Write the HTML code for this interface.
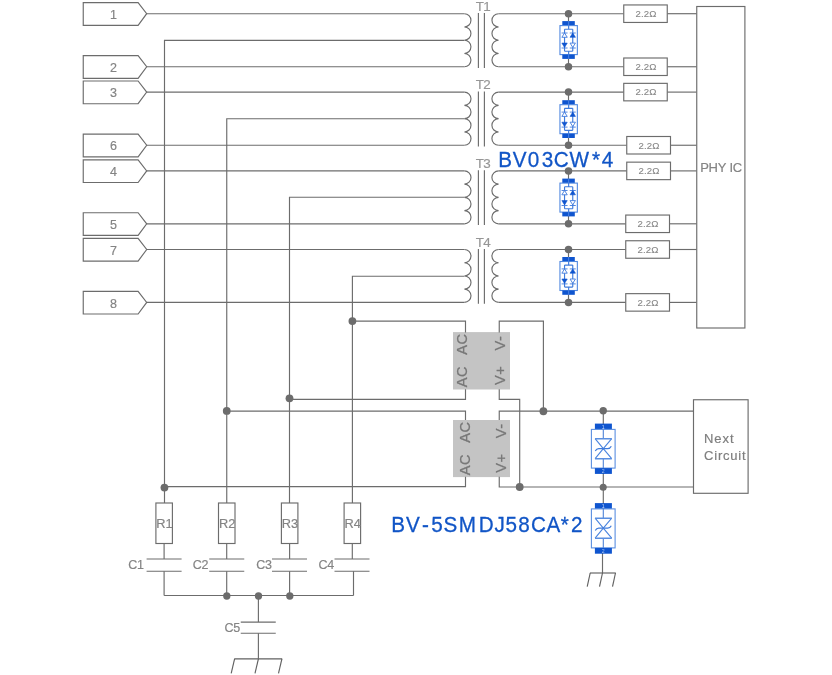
<!DOCTYPE html>
<html lang="en">
<head>
<meta charset="utf-8">
<title>PoE protection circuit</title>
<style>
html,body{margin:0;padding:0;background:#fff;}
body{width:832px;height:675px;overflow:hidden;}
svg{display:block;will-change:transform;font-family:'Liberation Sans', sans-serif;}
</style>
</head>
<body>
<svg width="832" height="675" viewBox="0 0 832 675">
<rect x="0" y="0" width="832" height="675" fill="#ffffff"/>
<polygon points="83.25,2.6 138.1,2.6 146.7,13.7 138.1,25.3 83.25,25.3" fill="#fff" stroke="#6c6c6c" stroke-width="1.15"/>
<text x="113.6" y="18.9" font-size="12.5" fill="#848484" stroke="#848484" stroke-width="0.18" text-anchor="middle" letter-spacing="0" >1</text>
<line x1="146.7" y1="13.7" x2="464.4" y2="13.7" stroke="#6c6c6c" stroke-width="1.15"/>
<polygon points="83.25,55.65 138.1,55.65 146.7,66.75 138.1,78.35 83.25,78.35" fill="#fff" stroke="#6c6c6c" stroke-width="1.15"/>
<text x="113.6" y="71.95" font-size="12.5" fill="#848484" stroke="#848484" stroke-width="0.18" text-anchor="middle" letter-spacing="0" >2</text>
<line x1="146.7" y1="66.75" x2="464.4" y2="66.75" stroke="#6c6c6c" stroke-width="1.15"/>
<polygon points="83.25,81.0 138.1,81.0 146.7,92.1 138.1,103.7 83.25,103.7" fill="#fff" stroke="#6c6c6c" stroke-width="1.15"/>
<text x="113.6" y="97.3" font-size="12.5" fill="#848484" stroke="#848484" stroke-width="0.18" text-anchor="middle" letter-spacing="0" >3</text>
<line x1="146.7" y1="92.1" x2="464.4" y2="92.1" stroke="#6c6c6c" stroke-width="1.15"/>
<polygon points="83.25,134.15 138.1,134.15 146.7,145.25 138.1,156.85 83.25,156.85" fill="#fff" stroke="#6c6c6c" stroke-width="1.15"/>
<text x="113.6" y="150.45" font-size="12.5" fill="#848484" stroke="#848484" stroke-width="0.18" text-anchor="middle" letter-spacing="0" >6</text>
<line x1="146.7" y1="145.25" x2="464.4" y2="145.25" stroke="#6c6c6c" stroke-width="1.15"/>
<polygon points="83.25,159.8 138.1,159.8 146.7,170.9 138.1,182.5 83.25,182.5" fill="#fff" stroke="#6c6c6c" stroke-width="1.15"/>
<text x="113.6" y="176.1" font-size="12.5" fill="#848484" stroke="#848484" stroke-width="0.18" text-anchor="middle" letter-spacing="0" >4</text>
<line x1="146.7" y1="170.9" x2="464.4" y2="170.9" stroke="#6c6c6c" stroke-width="1.15"/>
<polygon points="83.25,212.7 138.1,212.7 146.7,223.8 138.1,235.4 83.25,235.4" fill="#fff" stroke="#6c6c6c" stroke-width="1.15"/>
<text x="113.6" y="229.0" font-size="12.5" fill="#848484" stroke="#848484" stroke-width="0.18" text-anchor="middle" letter-spacing="0" >5</text>
<line x1="146.7" y1="223.8" x2="464.4" y2="223.8" stroke="#6c6c6c" stroke-width="1.15"/>
<polygon points="83.25,238.4 138.1,238.4 146.7,249.5 138.1,261.1 83.25,261.1" fill="#fff" stroke="#6c6c6c" stroke-width="1.15"/>
<text x="113.6" y="254.7" font-size="12.5" fill="#848484" stroke="#848484" stroke-width="0.18" text-anchor="middle" letter-spacing="0" >7</text>
<line x1="146.7" y1="249.5" x2="464.4" y2="249.5" stroke="#6c6c6c" stroke-width="1.15"/>
<polygon points="83.25,291.3 138.1,291.3 146.7,302.4 138.1,314.0 83.25,314.0" fill="#fff" stroke="#6c6c6c" stroke-width="1.15"/>
<text x="113.6" y="307.6" font-size="12.5" fill="#848484" stroke="#848484" stroke-width="0.18" text-anchor="middle" letter-spacing="0" >8</text>
<line x1="146.7" y1="302.4" x2="464.4" y2="302.4" stroke="#6c6c6c" stroke-width="1.15"/>
<polyline points="464.4,40.3 164.5,40.3 164.5,503" fill="none" stroke="#6c6c6c" stroke-width="1.15"/>
<path d="M464.4,13.7 a6.6,6.63125 0 0 1 0,13.262 a6.6,6.63125 0 0 1 0,13.262 a6.6,6.63125 0 0 1 0,13.262 a6.6,6.63125 0 0 1 0,13.262" fill="none" stroke="#6c6c6c" stroke-width="1.15"/>
<path d="M498.6,13.7 a6.7,6.63125 0 0 0 0,13.262 a6.7,6.63125 0 0 0 0,13.262 a6.7,6.63125 0 0 0 0,13.262 a6.7,6.63125 0 0 0 0,13.262" fill="none" stroke="#6c6c6c" stroke-width="1.15"/>
<line x1="478.4" y1="13.1" x2="478.4" y2="68.05" stroke="#6c6c6c" stroke-width="1.15"/>
<line x1="484.4" y1="13.1" x2="484.4" y2="68.05" stroke="#6c6c6c" stroke-width="1.15"/>
<text x="482.9" y="10.8" font-size="13.4" fill="#969696" stroke="#969696" stroke-width="0.18" text-anchor="middle" letter-spacing="-0.6" >T1</text>
<line x1="498.6" y1="13.7" x2="623.75" y2="13.7" stroke="#6c6c6c" stroke-width="1.15"/>
<line x1="667.25" y1="13.7" x2="696.75" y2="13.7" stroke="#6c6c6c" stroke-width="1.15"/>
<rect x="623.75" y="4.949999999999999" width="43.5" height="17.5" fill="#fff" stroke="#6c6c6c" stroke-width="1.15"/>
<text x="646.0" y="17.0" font-size="9.6" fill="#868686" stroke="#868686" stroke-width="0.1" text-anchor="middle" letter-spacing="0.15" >2.2Ω</text>
<line x1="498.6" y1="66.75" x2="623.75" y2="66.75" stroke="#6c6c6c" stroke-width="1.15"/>
<line x1="667.25" y1="66.75" x2="696.75" y2="66.75" stroke="#6c6c6c" stroke-width="1.15"/>
<rect x="623.75" y="58.0" width="43.5" height="17.5" fill="#fff" stroke="#6c6c6c" stroke-width="1.15"/>
<text x="646.0" y="70.05" font-size="9.6" fill="#868686" stroke="#868686" stroke-width="0.1" text-anchor="middle" letter-spacing="0.15" >2.2Ω</text>
<line x1="568.5" y1="13.7" x2="568.5" y2="22.1" stroke="#6c6c6c" stroke-width="1.15"/>
<line x1="568.5" y1="58.1" x2="568.5" y2="66.75" stroke="#6c6c6c" stroke-width="1.15"/>
<rect x="562.3" y="21.1" width="12.5" height="4.5" fill="#0f55cf"/>
<rect x="559.95" y="25.6" width="17.4" height="29" fill="#fff" stroke="#5088e0" stroke-width="1.1"/>
<rect x="562.3" y="54.6" width="12.5" height="4.3" fill="#0f55cf"/>
<rect x="568.15" y="21.1" width="1" height="4.5" fill="#4d84e2"/>
<rect x="568.15" y="54.6" width="1" height="4.3" fill="#4d84e2"/>
<path d="M568.65,25.6 v3.6 M564.55,29.200000000000003 H572.75 M564.55,29.200000000000003 V51.2 M572.75,29.200000000000003 V51.2 M564.55,51.2 H572.75 M568.65,51.2 V54.6" stroke="#3f7bdc" stroke-width="1.15" fill="none"/>
<path d="M561.55,33.0 h6 M569.75,33.0 h6" stroke="#3f7bdc" stroke-width="0.9" fill="none"/>
<path d="M564.55,33.0 l2.7,4.3 h-5.4z" fill="#fff" stroke="#3f7bdc" stroke-width="0.9"/>
<path d="M572.75,33.0 l2.7,4.3 h-5.4z" fill="#0f55cf" stroke="#0f55cf" stroke-width="0.6"/>
<path d="M561.55,48.0 h6 M569.75,48.0 h6" stroke="#3f7bdc" stroke-width="0.9" fill="none"/>
<path d="M564.55,47.4 l2.7,-4.3 h-5.4z" fill="#0f55cf" stroke="#0f55cf" stroke-width="0.6"/>
<path d="M572.75,47.4 l2.7,-4.3 h-5.4z" fill="#fff" stroke="#3f7bdc" stroke-width="0.9"/>
<circle cx="568.5" cy="13.7" r="3.75" fill="#6c6c6c"/>
<circle cx="568.5" cy="66.75" r="3.75" fill="#6c6c6c"/>
<polyline points="464.4,118.75 226.75,118.75 226.75,503" fill="none" stroke="#6c6c6c" stroke-width="1.15"/>
<path d="M464.4,92.1 a6.6,6.643750000000001 0 0 1 0,13.288 a6.6,6.643750000000001 0 0 1 0,13.288 a6.6,6.643750000000001 0 0 1 0,13.288 a6.6,6.643750000000001 0 0 1 0,13.288" fill="none" stroke="#6c6c6c" stroke-width="1.15"/>
<path d="M498.6,92.1 a6.7,6.643750000000001 0 0 0 0,13.288 a6.7,6.643750000000001 0 0 0 0,13.288 a6.7,6.643750000000001 0 0 0 0,13.288 a6.7,6.643750000000001 0 0 0 0,13.288" fill="none" stroke="#6c6c6c" stroke-width="1.15"/>
<line x1="478.4" y1="91.5" x2="478.4" y2="146.55" stroke="#6c6c6c" stroke-width="1.15"/>
<line x1="484.4" y1="91.5" x2="484.4" y2="146.55" stroke="#6c6c6c" stroke-width="1.15"/>
<text x="482.9" y="89.2" font-size="13.4" fill="#969696" stroke="#969696" stroke-width="0.18" text-anchor="middle" letter-spacing="-0.6" >T2</text>
<line x1="498.6" y1="92.1" x2="623.75" y2="92.1" stroke="#6c6c6c" stroke-width="1.15"/>
<line x1="667.25" y1="92.1" x2="696.75" y2="92.1" stroke="#6c6c6c" stroke-width="1.15"/>
<rect x="623.75" y="83.35" width="43.5" height="17.5" fill="#fff" stroke="#6c6c6c" stroke-width="1.15"/>
<text x="646.0" y="95.4" font-size="9.6" fill="#868686" stroke="#868686" stroke-width="0.1" text-anchor="middle" letter-spacing="0.15" >2.2Ω</text>
<line x1="498.6" y1="145.25" x2="626.75" y2="145.25" stroke="#6c6c6c" stroke-width="1.15"/>
<line x1="670.5" y1="145.25" x2="696.75" y2="145.25" stroke="#6c6c6c" stroke-width="1.15"/>
<rect x="626.75" y="136.5" width="43.75" height="17.5" fill="#fff" stroke="#6c6c6c" stroke-width="1.15"/>
<text x="649.125" y="148.55" font-size="9.6" fill="#868686" stroke="#868686" stroke-width="0.1" text-anchor="middle" letter-spacing="0.15" >2.2Ω</text>
<line x1="568.5" y1="92.1" x2="568.5" y2="101.2" stroke="#6c6c6c" stroke-width="1.15"/>
<line x1="568.5" y1="137.2" x2="568.5" y2="145.25" stroke="#6c6c6c" stroke-width="1.15"/>
<rect x="562.3" y="100.2" width="12.5" height="4.5" fill="#0f55cf"/>
<rect x="559.95" y="104.7" width="17.4" height="29" fill="#fff" stroke="#5088e0" stroke-width="1.1"/>
<rect x="562.3" y="133.7" width="12.5" height="4.3" fill="#0f55cf"/>
<rect x="568.15" y="100.2" width="1" height="4.5" fill="#4d84e2"/>
<rect x="568.15" y="133.7" width="1" height="4.3" fill="#4d84e2"/>
<path d="M568.65,104.7 v3.6 M564.55,108.3 H572.75 M564.55,108.3 V130.3 M572.75,108.3 V130.3 M564.55,130.3 H572.75 M568.65,130.3 V133.7" stroke="#3f7bdc" stroke-width="1.15" fill="none"/>
<path d="M561.55,112.1 h6 M569.75,112.1 h6" stroke="#3f7bdc" stroke-width="0.9" fill="none"/>
<path d="M564.55,112.1 l2.7,4.3 h-5.4z" fill="#fff" stroke="#3f7bdc" stroke-width="0.9"/>
<path d="M572.75,112.1 l2.7,4.3 h-5.4z" fill="#0f55cf" stroke="#0f55cf" stroke-width="0.6"/>
<path d="M561.55,127.1 h6 M569.75,127.1 h6" stroke="#3f7bdc" stroke-width="0.9" fill="none"/>
<path d="M564.55,126.5 l2.7,-4.3 h-5.4z" fill="#0f55cf" stroke="#0f55cf" stroke-width="0.6"/>
<path d="M572.75,126.5 l2.7,-4.3 h-5.4z" fill="#fff" stroke="#3f7bdc" stroke-width="0.9"/>
<circle cx="568.5" cy="92.1" r="3.75" fill="#6c6c6c"/>
<circle cx="568.5" cy="145.25" r="3.75" fill="#6c6c6c"/>
<polyline points="464.4,197.25 289.5,197.25 289.5,503" fill="none" stroke="#6c6c6c" stroke-width="1.15"/>
<path d="M464.4,170.9 a6.6,6.612500000000001 0 0 1 0,13.225 a6.6,6.612500000000001 0 0 1 0,13.225 a6.6,6.612500000000001 0 0 1 0,13.225 a6.6,6.612500000000001 0 0 1 0,13.225" fill="none" stroke="#6c6c6c" stroke-width="1.15"/>
<path d="M498.6,170.9 a6.7,6.612500000000001 0 0 0 0,13.225 a6.7,6.612500000000001 0 0 0 0,13.225 a6.7,6.612500000000001 0 0 0 0,13.225 a6.7,6.612500000000001 0 0 0 0,13.225" fill="none" stroke="#6c6c6c" stroke-width="1.15"/>
<line x1="478.4" y1="170.3" x2="478.4" y2="225.10000000000002" stroke="#6c6c6c" stroke-width="1.15"/>
<line x1="484.4" y1="170.3" x2="484.4" y2="225.10000000000002" stroke="#6c6c6c" stroke-width="1.15"/>
<text x="482.9" y="168.0" font-size="13.4" fill="#969696" stroke="#969696" stroke-width="0.18" text-anchor="middle" letter-spacing="-0.6" >T3</text>
<line x1="498.6" y1="170.9" x2="626.75" y2="170.9" stroke="#6c6c6c" stroke-width="1.15"/>
<line x1="670.5" y1="170.9" x2="696.75" y2="170.9" stroke="#6c6c6c" stroke-width="1.15"/>
<rect x="626.75" y="162.15" width="43.75" height="17.5" fill="#fff" stroke="#6c6c6c" stroke-width="1.15"/>
<text x="649.125" y="174.2" font-size="9.6" fill="#868686" stroke="#868686" stroke-width="0.1" text-anchor="middle" letter-spacing="0.15" >2.2Ω</text>
<line x1="498.6" y1="223.8" x2="625.75" y2="223.8" stroke="#6c6c6c" stroke-width="1.15"/>
<line x1="669.5" y1="223.8" x2="696.75" y2="223.8" stroke="#6c6c6c" stroke-width="1.15"/>
<rect x="625.75" y="215.05" width="43.75" height="17.5" fill="#fff" stroke="#6c6c6c" stroke-width="1.15"/>
<text x="648.125" y="227.1" font-size="9.6" fill="#868686" stroke="#868686" stroke-width="0.1" text-anchor="middle" letter-spacing="0.15" >2.2Ω</text>
<line x1="568.5" y1="170.9" x2="568.5" y2="179.6" stroke="#6c6c6c" stroke-width="1.15"/>
<line x1="568.5" y1="215.6" x2="568.5" y2="223.8" stroke="#6c6c6c" stroke-width="1.15"/>
<rect x="562.3" y="178.6" width="12.5" height="4.5" fill="#0f55cf"/>
<rect x="559.95" y="183.1" width="17.4" height="29" fill="#fff" stroke="#5088e0" stroke-width="1.1"/>
<rect x="562.3" y="212.1" width="12.5" height="4.3" fill="#0f55cf"/>
<rect x="568.15" y="178.6" width="1" height="4.5" fill="#4d84e2"/>
<rect x="568.15" y="212.1" width="1" height="4.3" fill="#4d84e2"/>
<path d="M568.65,183.1 v3.6 M564.55,186.7 H572.75 M564.55,186.7 V208.7 M572.75,186.7 V208.7 M564.55,208.7 H572.75 M568.65,208.7 V212.1" stroke="#3f7bdc" stroke-width="1.15" fill="none"/>
<path d="M561.55,190.5 h6 M569.75,190.5 h6" stroke="#3f7bdc" stroke-width="0.9" fill="none"/>
<path d="M564.55,190.5 l2.7,4.3 h-5.4z" fill="#fff" stroke="#3f7bdc" stroke-width="0.9"/>
<path d="M572.75,190.5 l2.7,4.3 h-5.4z" fill="#0f55cf" stroke="#0f55cf" stroke-width="0.6"/>
<path d="M561.55,205.5 h6 M569.75,205.5 h6" stroke="#3f7bdc" stroke-width="0.9" fill="none"/>
<path d="M564.55,204.9 l2.7,-4.3 h-5.4z" fill="#0f55cf" stroke="#0f55cf" stroke-width="0.6"/>
<path d="M572.75,204.9 l2.7,-4.3 h-5.4z" fill="#fff" stroke="#3f7bdc" stroke-width="0.9"/>
<circle cx="568.5" cy="170.9" r="3.75" fill="#6c6c6c"/>
<circle cx="568.5" cy="223.8" r="3.75" fill="#6c6c6c"/>
<polyline points="464.4,276.25 352.4,276.25 352.4,503" fill="none" stroke="#6c6c6c" stroke-width="1.15"/>
<path d="M464.4,249.5 a6.6,6.612499999999997 0 0 1 0,13.225 a6.6,6.612499999999997 0 0 1 0,13.225 a6.6,6.612499999999997 0 0 1 0,13.225 a6.6,6.612499999999997 0 0 1 0,13.225" fill="none" stroke="#6c6c6c" stroke-width="1.15"/>
<path d="M498.6,249.5 a6.7,6.612499999999997 0 0 0 0,13.225 a6.7,6.612499999999997 0 0 0 0,13.225 a6.7,6.612499999999997 0 0 0 0,13.225 a6.7,6.612499999999997 0 0 0 0,13.225" fill="none" stroke="#6c6c6c" stroke-width="1.15"/>
<line x1="478.4" y1="248.9" x2="478.4" y2="303.7" stroke="#6c6c6c" stroke-width="1.15"/>
<line x1="484.4" y1="248.9" x2="484.4" y2="303.7" stroke="#6c6c6c" stroke-width="1.15"/>
<text x="482.9" y="246.6" font-size="13.4" fill="#969696" stroke="#969696" stroke-width="0.18" text-anchor="middle" letter-spacing="-0.6" >T4</text>
<line x1="498.6" y1="249.5" x2="625.75" y2="249.5" stroke="#6c6c6c" stroke-width="1.15"/>
<line x1="669.5" y1="249.5" x2="696.75" y2="249.5" stroke="#6c6c6c" stroke-width="1.15"/>
<rect x="625.75" y="240.75" width="43.75" height="17.5" fill="#fff" stroke="#6c6c6c" stroke-width="1.15"/>
<text x="648.125" y="252.8" font-size="9.6" fill="#868686" stroke="#868686" stroke-width="0.1" text-anchor="middle" letter-spacing="0.15" >2.2Ω</text>
<line x1="498.6" y1="302.4" x2="625.75" y2="302.4" stroke="#6c6c6c" stroke-width="1.15"/>
<line x1="669.5" y1="302.4" x2="696.75" y2="302.4" stroke="#6c6c6c" stroke-width="1.15"/>
<rect x="625.75" y="293.65" width="43.75" height="17.5" fill="#fff" stroke="#6c6c6c" stroke-width="1.15"/>
<text x="648.125" y="305.7" font-size="9.6" fill="#868686" stroke="#868686" stroke-width="0.1" text-anchor="middle" letter-spacing="0.15" >2.2Ω</text>
<line x1="568.5" y1="249.5" x2="568.5" y2="258.0" stroke="#6c6c6c" stroke-width="1.15"/>
<line x1="568.5" y1="294.0" x2="568.5" y2="302.4" stroke="#6c6c6c" stroke-width="1.15"/>
<rect x="562.3" y="257.0" width="12.5" height="4.5" fill="#0f55cf"/>
<rect x="559.95" y="261.5" width="17.4" height="29" fill="#fff" stroke="#5088e0" stroke-width="1.1"/>
<rect x="562.3" y="290.5" width="12.5" height="4.3" fill="#0f55cf"/>
<rect x="568.15" y="257.0" width="1" height="4.5" fill="#4d84e2"/>
<rect x="568.15" y="290.5" width="1" height="4.3" fill="#4d84e2"/>
<path d="M568.65,261.5 v3.6 M564.55,265.1 H572.75 M564.55,265.1 V287.1 M572.75,265.1 V287.1 M564.55,287.1 H572.75 M568.65,287.1 V290.5" stroke="#3f7bdc" stroke-width="1.15" fill="none"/>
<path d="M561.55,268.9 h6 M569.75,268.9 h6" stroke="#3f7bdc" stroke-width="0.9" fill="none"/>
<path d="M564.55,268.9 l2.7,4.3 h-5.4z" fill="#fff" stroke="#3f7bdc" stroke-width="0.9"/>
<path d="M572.75,268.9 l2.7,4.3 h-5.4z" fill="#0f55cf" stroke="#0f55cf" stroke-width="0.6"/>
<path d="M561.55,283.90000000000003 h6 M569.75,283.90000000000003 h6" stroke="#3f7bdc" stroke-width="0.9" fill="none"/>
<path d="M564.55,283.3 l2.7,-4.3 h-5.4z" fill="#0f55cf" stroke="#0f55cf" stroke-width="0.6"/>
<path d="M572.75,283.3 l2.7,-4.3 h-5.4z" fill="#fff" stroke="#3f7bdc" stroke-width="0.9"/>
<circle cx="568.5" cy="249.5" r="3.75" fill="#6c6c6c"/>
<circle cx="568.5" cy="302.4" r="3.75" fill="#6c6c6c"/>
<rect x="696.75" y="6.5" width="48.15" height="321.5" fill="#fff" stroke="#6c6c6c" stroke-width="1.15"/>
<text x="721.1" y="171.9" font-size="13" fill="#848484" stroke="#848484" stroke-width="0.18" text-anchor="middle" letter-spacing="-0.2" >PHY IC</text>
<rect x="453" y="332.1" width="57" height="57.4" fill="#c4c4c4"/>
<text transform="translate(467.4,344.1) rotate(-90)" font-size="14.6" fill="#777777" stroke="#777777" stroke-width="0.25" text-anchor="middle" letter-spacing="0.5">AC</text>
<text transform="translate(467.4,376.7) rotate(-90)" font-size="14.6" fill="#777777" stroke="#777777" stroke-width="0.25" text-anchor="middle" letter-spacing="0.5">AC</text>
<text transform="translate(505.2,343.0) rotate(-90)" font-size="14.6" fill="#777777" stroke="#777777" stroke-width="0.25" text-anchor="middle" letter-spacing="0.5">V-</text>
<text transform="translate(505.2,375.3) rotate(-90)" font-size="14.6" fill="#777777" stroke="#777777" stroke-width="0.25" text-anchor="middle" letter-spacing="0.5">V+</text>
<rect x="453" y="420.0" width="57" height="57.1" fill="#c4c4c4"/>
<text transform="translate(469.8,432.0) rotate(-90)" font-size="14.6" fill="#777777" stroke="#777777" stroke-width="0.25" text-anchor="middle" letter-spacing="0.5">AC</text>
<text transform="translate(469.8,464.6) rotate(-90)" font-size="14.6" fill="#777777" stroke="#777777" stroke-width="0.25" text-anchor="middle" letter-spacing="0.5">AC</text>
<text transform="translate(506.3,430.9) rotate(-90)" font-size="14.6" fill="#777777" stroke="#777777" stroke-width="0.25" text-anchor="middle" letter-spacing="0.5">V-</text>
<text transform="translate(506.3,463.2) rotate(-90)" font-size="14.6" fill="#777777" stroke="#777777" stroke-width="0.25" text-anchor="middle" letter-spacing="0.5">V+</text>
<polyline points="352.4,321.1 465.5,321.1 465.5,332.5" fill="none" stroke="#6c6c6c" stroke-width="1.15"/>
<polyline points="499.25,332.5 499.25,321.1 543.4,321.1 543.4,411.25" fill="none" stroke="#6c6c6c" stroke-width="1.15"/>
<polyline points="465.5,389.25 465.5,399.3 289.5,399.3" fill="none" stroke="#6c6c6c" stroke-width="1.15"/>
<polyline points="499.25,389.25 499.25,399.3 519.7,399.3 519.7,486.75" fill="none" stroke="#6c6c6c" stroke-width="1.15"/>
<polyline points="465.5,420.0 465.5,411.1 226.75,411.1" fill="none" stroke="#6c6c6c" stroke-width="1.15"/>
<polyline points="499.25,420.0 499.25,411.1 693.5,411.1" fill="none" stroke="#6c6c6c" stroke-width="1.15"/>
<polyline points="465.5,476.75 465.5,486.6 164.5,486.6" fill="none" stroke="#6c6c6c" stroke-width="1.15"/>
<polyline points="499.25,476.75 499.25,487.0 693.5,487.0" fill="none" stroke="#6c6c6c" stroke-width="1.15"/>
<circle cx="352.4" cy="321.1" r="3.9" fill="#6c6c6c"/>
<circle cx="289.5" cy="398.3" r="3.9" fill="#6c6c6c"/>
<circle cx="226.75" cy="410.9" r="3.9" fill="#6c6c6c"/>
<circle cx="164.45" cy="487.6" r="3.9" fill="#6c6c6c"/>
<circle cx="543.4" cy="411.25" r="3.9" fill="#6c6c6c"/>
<circle cx="519.7" cy="487.0" r="3.9" fill="#6c6c6c"/>
<line x1="164.1" y1="543.5" x2="164.1" y2="559.0" stroke="#6c6c6c" stroke-width="1.15"/>
<rect x="155.9" y="503.0" width="16.5" height="40.5" fill="#fff" stroke="#6c6c6c" stroke-width="1.15"/>
<text x="164.5" y="528.0" font-size="12.8" fill="#848484" stroke="#848484" stroke-width="0.18" text-anchor="middle" letter-spacing="0" >R1</text>
<line x1="146.6" y1="559.0" x2="181.6" y2="559.0" stroke="#6c6c6c" stroke-width="1.15"/>
<line x1="146.6" y1="571.2" x2="181.6" y2="571.2" stroke="#6c6c6c" stroke-width="1.15"/>
<line x1="164.1" y1="571.2" x2="164.1" y2="595.5" stroke="#6c6c6c" stroke-width="1.15"/>
<text x="128.2" y="569.0" font-size="12.5" fill="#848484" stroke="#848484" stroke-width="0.18" text-anchor="start" letter-spacing="-0.3" >C1</text>
<line x1="226.7" y1="543.5" x2="226.7" y2="559.0" stroke="#6c6c6c" stroke-width="1.15"/>
<rect x="218.5" y="503.0" width="16.5" height="40.5" fill="#fff" stroke="#6c6c6c" stroke-width="1.15"/>
<text x="227.1" y="528.0" font-size="12.8" fill="#848484" stroke="#848484" stroke-width="0.18" text-anchor="middle" letter-spacing="0" >R2</text>
<line x1="209.25" y1="559.0" x2="244.25" y2="559.0" stroke="#6c6c6c" stroke-width="1.15"/>
<line x1="209.25" y1="571.2" x2="244.25" y2="571.2" stroke="#6c6c6c" stroke-width="1.15"/>
<line x1="226.7" y1="571.2" x2="226.7" y2="595.5" stroke="#6c6c6c" stroke-width="1.15"/>
<text x="192.8" y="569.0" font-size="12.5" fill="#848484" stroke="#848484" stroke-width="0.18" text-anchor="start" letter-spacing="-0.3" >C2</text>
<line x1="289.6" y1="543.5" x2="289.6" y2="559.0" stroke="#6c6c6c" stroke-width="1.15"/>
<rect x="281.40000000000003" y="503.0" width="16.5" height="40.5" fill="#fff" stroke="#6c6c6c" stroke-width="1.15"/>
<text x="290.0" y="528.0" font-size="12.8" fill="#848484" stroke="#848484" stroke-width="0.18" text-anchor="middle" letter-spacing="0" >R3</text>
<line x1="272.0" y1="559.0" x2="307.0" y2="559.0" stroke="#6c6c6c" stroke-width="1.15"/>
<line x1="272.0" y1="571.2" x2="307.0" y2="571.2" stroke="#6c6c6c" stroke-width="1.15"/>
<line x1="289.6" y1="571.2" x2="289.6" y2="595.5" stroke="#6c6c6c" stroke-width="1.15"/>
<text x="256.3" y="569.0" font-size="12.5" fill="#848484" stroke="#848484" stroke-width="0.18" text-anchor="start" letter-spacing="-0.3" >C3</text>
<line x1="352.3" y1="543.5" x2="352.3" y2="559.0" stroke="#6c6c6c" stroke-width="1.15"/>
<rect x="344.1" y="503.0" width="16.5" height="40.5" fill="#fff" stroke="#6c6c6c" stroke-width="1.15"/>
<text x="352.7" y="528.0" font-size="12.8" fill="#848484" stroke="#848484" stroke-width="0.18" text-anchor="middle" letter-spacing="0" >R4</text>
<line x1="334.5" y1="559.0" x2="369.5" y2="559.0" stroke="#6c6c6c" stroke-width="1.15"/>
<line x1="334.5" y1="571.2" x2="369.5" y2="571.2" stroke="#6c6c6c" stroke-width="1.15"/>
<line x1="353.5" y1="571.2" x2="353.5" y2="595.5" stroke="#6c6c6c" stroke-width="1.15"/>
<text x="318.6" y="569.0" font-size="12.5" fill="#848484" stroke="#848484" stroke-width="0.18" text-anchor="start" letter-spacing="-0.3" >C4</text>
<line x1="164.1" y1="595.5" x2="353.5" y2="595.5" stroke="#6c6c6c" stroke-width="1.15"/>
<circle cx="226.8" cy="596.0" r="3.65" fill="#6c6c6c"/>
<circle cx="258.5" cy="596.0" r="3.65" fill="#6c6c6c"/>
<circle cx="289.8" cy="596.0" r="3.65" fill="#6c6c6c"/>
<line x1="258.4" y1="595.5" x2="258.4" y2="622.1" stroke="#6c6c6c" stroke-width="1.15"/>
<line x1="240.75" y1="622.1" x2="275.75" y2="622.1" stroke="#6c6c6c" stroke-width="1.15"/>
<line x1="240.75" y1="633.2" x2="275.75" y2="633.2" stroke="#6c6c6c" stroke-width="1.15"/>
<text x="224.6" y="632.4" font-size="12.5" fill="#848484" stroke="#848484" stroke-width="0.18" text-anchor="start" letter-spacing="-0.3" >C5</text>
<line x1="258.4" y1="633.2" x2="258.4" y2="658.8" stroke="#6c6c6c" stroke-width="1.15"/>
<line x1="234.29999999999998" y1="658.8" x2="282.2" y2="658.8" stroke="#606060" stroke-width="1.15"/>
<line x1="234.6" y1="658.8" x2="231.2" y2="673.4" stroke="#606060" stroke-width="1.15"/>
<line x1="258.4" y1="658.8" x2="254.99999999999997" y2="673.4" stroke="#606060" stroke-width="1.15"/>
<line x1="281.9" y1="658.8" x2="278.5" y2="673.4" stroke="#606060" stroke-width="1.15"/>
<line x1="603.3" y1="411.0" x2="603.3" y2="424.6" stroke="#6c6c6c" stroke-width="1.15"/>
<line x1="603.3" y1="472.90000000000003" x2="603.3" y2="486.75" stroke="#6c6c6c" stroke-width="1.15"/>
<rect x="594.9" y="423.6" width="17" height="5.8" fill="#0f55cf"/>
<rect x="591.4" y="429.40000000000003" width="23.7" height="38.7" fill="#fff" stroke="#5b8fe0" stroke-width="1.1"/>
<rect x="594.9" y="468.1" width="17" height="5.8" fill="#0f55cf"/>
<text x="603.3" y="428.6" font-size="5.2" fill="#c9daf7" stroke="#c9daf7" stroke-width="0" text-anchor="middle" letter-spacing="0" >1</text>
<text x="603.3" y="473.0" font-size="5.2" fill="#a9c4f2" stroke="#a9c4f2" stroke-width="0" text-anchor="middle" letter-spacing="0" >2</text>
<path d="M603.3,429.40000000000003 V438.7 M603.3,458.7 V468.1" stroke="#4f83d6" stroke-width="1.1" fill="none"/>
<path d="M595.0999999999999,438.7 L603.3,448.7 L611.6999999999999,438.7 M595.0999999999999,458.7 L603.3,448.7 L611.6999999999999,458.7" stroke="#4a84de" stroke-width="1.1" fill="none"/>
<path d="M595.0,438.7 H611.8 M595.0,458.7 H611.8" stroke="#5b8fe0" stroke-width="1.5" fill="none"/>
<path d="M595.3,451.09999999999997 q1.2,-2.4 3.4,-2.4 h9 q2.4,0 3.6,-2.4" stroke="#3f7bdc" stroke-width="1.2" fill="none"/>
<line x1="603.3" y1="486.75" x2="603.3" y2="504.1" stroke="#6c6c6c" stroke-width="1.15"/>
<line x1="602.5" y1="552.7" x2="602.5" y2="573.0" stroke="#6c6c6c" stroke-width="1.15"/>
<rect x="594.9" y="503.1" width="17" height="5.8" fill="#0f55cf"/>
<rect x="591.4" y="508.90000000000003" width="23.7" height="39" fill="#fff" stroke="#5b8fe0" stroke-width="1.1"/>
<rect x="594.9" y="547.9000000000001" width="17" height="5.8" fill="#0f55cf"/>
<text x="603.3" y="508.1" font-size="5.2" fill="#c9daf7" stroke="#c9daf7" stroke-width="0" text-anchor="middle" letter-spacing="0" >1</text>
<text x="603.3" y="552.8" font-size="5.2" fill="#a9c4f2" stroke="#a9c4f2" stroke-width="0" text-anchor="middle" letter-spacing="0" >2</text>
<path d="M603.3,508.90000000000003 V518.2 M603.3,538.2 V547.9000000000001" stroke="#4f83d6" stroke-width="1.1" fill="none"/>
<path d="M595.0999999999999,518.2 L603.3,528.2 L611.6999999999999,518.2 M595.0999999999999,538.2 L603.3,528.2 L611.6999999999999,538.2" stroke="#4a84de" stroke-width="1.1" fill="none"/>
<path d="M595.0,518.2 H611.8 M595.0,538.2 H611.8" stroke="#5b8fe0" stroke-width="1.5" fill="none"/>
<path d="M595.3,530.6 q1.2,-2.4 3.4,-2.4 h9 q2.4,0 3.6,-2.4" stroke="#3f7bdc" stroke-width="1.2" fill="none"/>
<circle cx="603.2" cy="410.7" r="3.7" fill="#6c6c6c"/>
<circle cx="603.2" cy="487.2" r="3.55" fill="#6c6c6c"/>
<line x1="589.9000000000001" y1="573.0" x2="615.8" y2="573.0" stroke="#606060" stroke-width="1.15"/>
<line x1="590.2" y1="573.0" x2="587.2" y2="586.7" stroke="#606060" stroke-width="1.15"/>
<line x1="602.5" y1="573.0" x2="599.5" y2="586.7" stroke="#606060" stroke-width="1.15"/>
<line x1="615.5" y1="573.0" x2="612.5" y2="586.7" stroke="#606060" stroke-width="1.15"/>
<rect x="693.5" y="399.75" width="54.6" height="93.55" fill="#fff" stroke="#6c6c6c" stroke-width="1.15"/>
<text x="704.0" y="442.7" font-size="13" fill="#7e7e7e" stroke="#7e7e7e" stroke-width="0.18" text-anchor="start" letter-spacing="0.95" >Next</text>
<text x="704.0" y="459.6" font-size="13" fill="#7e7e7e" stroke="#7e7e7e" stroke-width="0.18" text-anchor="start" letter-spacing="0.8" >Circuit</text>
<text transform="scale(0.92,1)" x="541.62 557.33 573.74 588.92 601.95 618.99 643.61 654.2" y="166.9" font-size="22.5" fill="#1155c6" stroke="#1155c6" stroke-width="0.3">BV03CW*4</text>
<text transform="scale(0.92,1)" x="425.21 441.19 458.75 468.77 481.96 498.78 520.51 537.64 549.42 563.2 577.06 593.91 609.64 620.7" y="532.2" font-size="22.5" fill="#1155c6" stroke="#1155c6" stroke-width="0.3">BV-5SMDJ58CA*2</text>
</svg>
</body>
</html>
